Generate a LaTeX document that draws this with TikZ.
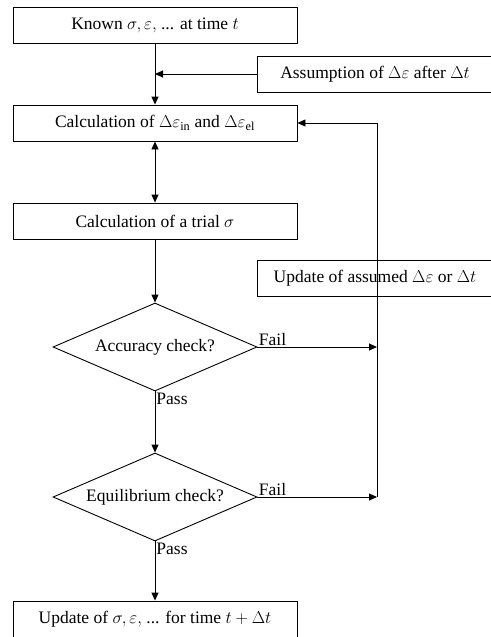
\documentclass[tikz,border=0pt]{standalone}
\usepackage{fontspec}
\setmainfont{Liberation Serif}
\usetikzlibrary{shapes.geometric,arrows.meta}

\begin{document}
\begin{tikzpicture}[x=1pt,y=-1pt,line width=0.9pt,font=\fontsize{17.5}{20}\selectfont,
  >={Triangle[length=8pt,width=7pt]},
  box/.style={draw, rectangle, minimum width=284pt, minimum height=36pt, inner sep=0pt},
  sidebox/.style={draw, rectangle, minimum width=236pt, minimum height=36pt, inner sep=0pt},
  check/.style={draw, diamond, aspect=2.32, minimum width=204pt, minimum height=88pt, inner sep=0pt},
  lbl/.style={inner sep=1pt}]
\useasboundingbox (0,0) rectangle (490,637);
\node[box] (known) at (155,25) {Known $\sigma, \varepsilon,$ ... at time $t$};
\node[sidebox] (assume) at (375,74) {Assumption of $\Delta\varepsilon$ after $\Delta t$};
\node[box] (calc) at (155,123) {Calculation of $\Delta\varepsilon_{\mathrm{in}}$ and $\Delta\varepsilon_{\mathrm{el}}$};
\node[box] (trial) at (155,221) {Calculation of a trial $\sigma$};
\node[sidebox] (update) at (375,278) {Update of assumed $\Delta\varepsilon$ or $\Delta t$};
\node[check] (acc) at (155,347) {Accuracy check?};
\node[check] (equ) at (155,497) {Equilibrium check?};
\node[box] (final) at (155,619) {Update of $\sigma, \varepsilon,$ ... for time $t + \Delta t$};
\coordinate (ret1) at (377,347);
\coordinate (ret2) at (377,497);

\draw[->](known) -- (calc);
\draw[->](assume.west) -- (assume.west -| known.south);
\draw[<->](calc) -- (trial);
\draw[->](trial) -- (acc);
\draw[->](acc.south) -- node[lbl, pos=0, anchor=north west] (pass1) {Pass} (equ.north);
\draw[->](equ.south) -- node[lbl, pos=0, anchor=north west] (pass2) {Pass} (final.north);
\draw[->](acc.east) -- node[lbl, pos=0, anchor=south west] (fail1) {Fail} (ret1);
\draw[->](equ.east) -- node[lbl, pos=0, anchor=south west] (fail2) {Fail} (ret2);
\draw[->](ret2) -- (calc.east -| ret2) -- (calc.east);

\end{tikzpicture}
\end{document}
